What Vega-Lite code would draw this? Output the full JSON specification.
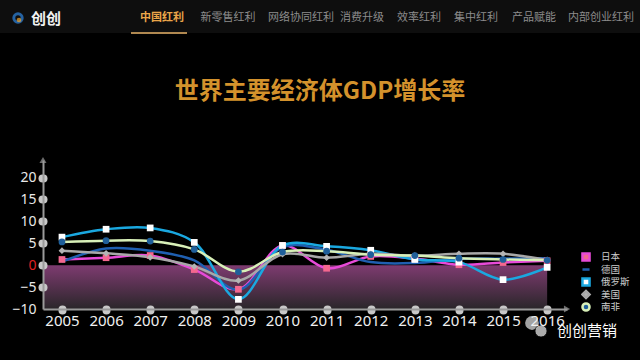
{
  "$schema": "https://vega.github.io/schema/vega-lite/v6.json",
  "width": 524,
  "height": 149,
  "autosize": "none",
  "padding": {"left": 43, "top": 160, "right": 73, "bottom": 51},
  "background": "#000000",
  "config": {"view": {"stroke": null}, "font": "Noto Sans CJK SC", "axis": {"grid": false}},
  "title": {"text": "世界主要经济体GDP增长率", "color": "#d4922c", "fontSize": 24, "fontWeight": "bold", "font": "Noto Sans CJK SC", "anchor": "middle", "frame": "group", "dx": 15, "offset": -104},
  "datasets": {
    "gdp": [
      {"year": 2005, "country": "日本", "gdp": 1.3},
      {"year": 2006, "country": "日本", "gdp": 1.7},
      {"year": 2007, "country": "日本", "gdp": 2.2},
      {"year": 2008, "country": "日本", "gdp": -1.0},
      {"year": 2009, "country": "日本", "gdp": -5.5},
      {"year": 2010, "country": "日本", "gdp": 4.5},
      {"year": 2011, "country": "日本", "gdp": -0.7},
      {"year": 2012, "country": "日本", "gdp": 2.0},
      {"year": 2013, "country": "日本", "gdp": 1.5},
      {"year": 2014, "country": "日本", "gdp": 0.1},
      {"year": 2015, "country": "日本", "gdp": 0.6},
      {"year": 2016, "country": "日本", "gdp": 1.0},
      {"year": 2005, "country": "德国", "gdp": 0.8},
      {"year": 2006, "country": "德国", "gdp": 3.8},
      {"year": 2007, "country": "德国", "gdp": 3.3},
      {"year": 2008, "country": "德国", "gdp": 1.1},
      {"year": 2009, "country": "德国", "gdp": -5.6},
      {"year": 2010, "country": "德国", "gdp": 4.1},
      {"year": 2011, "country": "德国", "gdp": 3.5},
      {"year": 2012, "country": "德国", "gdp": 0.7},
      {"year": 2013, "country": "德国", "gdp": 0.5},
      {"year": 2014, "country": "德国", "gdp": 1.4},
      {"year": 2015, "country": "德国", "gdp": 1.5},
      {"year": 2016, "country": "德国", "gdp": 1.6},
      {"year": 2005, "country": "俄罗斯", "gdp": 6.4},
      {"year": 2006, "country": "俄罗斯", "gdp": 8.2},
      {"year": 2007, "country": "俄罗斯", "gdp": 8.5},
      {"year": 2008, "country": "俄罗斯", "gdp": 5.2},
      {"year": 2009, "country": "俄罗斯", "gdp": -7.8},
      {"year": 2010, "country": "俄罗斯", "gdp": 4.5},
      {"year": 2011, "country": "俄罗斯", "gdp": 4.3},
      {"year": 2012, "country": "俄罗斯", "gdp": 3.4},
      {"year": 2013, "country": "俄罗斯", "gdp": 1.3},
      {"year": 2014, "country": "俄罗斯", "gdp": 0.7},
      {"year": 2015, "country": "俄罗斯", "gdp": -3.3},
      {"year": 2016, "country": "俄罗斯", "gdp": -0.5},
      {"year": 2005, "country": "美国", "gdp": 3.3},
      {"year": 2006, "country": "美国", "gdp": 2.7},
      {"year": 2007, "country": "美国", "gdp": 1.8},
      {"year": 2008, "country": "美国", "gdp": -0.3},
      {"year": 2009, "country": "美国", "gdp": -3.5},
      {"year": 2010, "country": "美国", "gdp": 2.5},
      {"year": 2011, "country": "美国", "gdp": 1.7},
      {"year": 2012, "country": "美国", "gdp": 2.6},
      {"year": 2013, "country": "美国", "gdp": 2.2},
      {"year": 2014, "country": "美国", "gdp": 2.6},
      {"year": 2015, "country": "美国", "gdp": 2.6},
      {"year": 2016, "country": "美国", "gdp": 1.2},
      {"year": 2005, "country": "南非", "gdp": 5.3},
      {"year": 2006, "country": "南非", "gdp": 5.6},
      {"year": 2007, "country": "南非", "gdp": 5.5},
      {"year": 2008, "country": "南非", "gdp": 3.6},
      {"year": 2009, "country": "南非", "gdp": -1.5},
      {"year": 2010, "country": "南非", "gdp": 3.0},
      {"year": 2011, "country": "南非", "gdp": 3.2},
      {"year": 2012, "country": "南非", "gdp": 2.4},
      {"year": 2013, "country": "南非", "gdp": 2.2},
      {"year": 2014, "country": "南非", "gdp": 1.6},
      {"year": 2015, "country": "南非", "gdp": 1.3},
      {"year": 2016, "country": "南非", "gdp": 1.1}
    ]
  },
  "layer": [
    {
      "data": {"values": [{}]},
      "mark": {"type": "rect", "fill": {"gradient": "linear", "x1": 0, "y1": 0, "x2": 0, "y2": 1, "stops": [{"offset": 0, "color": "#7e3b70"}, {"offset": 1, "color": "#2a262a"}]}},
      "encoding": {
        "x": {"datum": 2004.57, "type": "quantitative", "title": null,
          "scale": {"domain": [2004.57, 2016.45], "nice": false, "zero": false},
          "axis": {"title": null, "zindex": 1, "values": [2005, 2006, 2007, 2008, 2009, 2010, 2011, 2012, 2013, 2014, 2015, 2016], "format": "d", "grid": false,
            "domainColor": "#9a9a9a", "domainWidth": 2, "tickColor": "#c8c8c8", "tickWidth": 8, "tickCap": "round", "tickSize": 1,
            "labelColor": "#f0f0f0", "labelFontSize": 15, "labelFont": "Noto Sans", "labelPadding": 3, "labelFlush": false, "labelOverlap": false}},
        "x2": {"datum": 2016},
        "y": {"datum": 0, "type": "quantitative", "title": null,
          "scale": {"domain": [-10, 24], "nice": false, "zero": false},
          "axis": {"title": null, "zindex": 1, "values": [-10, -5, 0, 5, 10, 15, 20], "grid": false,
            "domainColor": "#9a9a9a", "domainWidth": 2, "tickColor": "#c8c8c8", "tickWidth": 8, "tickCap": "round", "tickSize": 1,
            "tickOpacity": {"condition": {"test": "datum.value === -10", "value": 0}, "value": 1},
            "labelColor": {"condition": {"test": "datum.value === 0", "value": "#e02020"}, "value": "#e8e8e8"},
            "labelFontSize": 14, "labelFont": "Noto Sans", "labelPadding": 6, "labelFlush": false, "labelOverlap": false}},
        "y2": {"datum": -10}
      }
    },
    {
      "data": {"name": "gdp"},
      "mark": {"type": "line", "interpolate": "catmull-rom", "strokeWidth": 2.5},
      "encoding": {
        "x": {"field": "year", "type": "quantitative", "title": null,
          "axis": {"title": null, "zindex": 1, "values": [2005, 2006, 2007, 2008, 2009, 2010, 2011, 2012, 2013, 2014, 2015, 2016], "format": "d", "grid": false,
            "domainColor": "#9a9a9a", "domainWidth": 2, "tickColor": "#c8c8c8", "tickWidth": 8, "tickCap": "round", "tickSize": 1,
            "labelColor": "#f0f0f0", "labelFontSize": 15, "labelFont": "Noto Sans", "labelPadding": 3, "labelFlush": false, "labelOverlap": false}},
        "y": {"field": "gdp", "type": "quantitative", "title": null,
          "axis": {"title": null, "zindex": 1, "values": [-10, -5, 0, 5, 10, 15, 20], "grid": false,
            "domainColor": "#9a9a9a", "domainWidth": 2, "tickColor": "#c8c8c8", "tickWidth": 8, "tickCap": "round", "tickSize": 1,
            "tickOpacity": {"condition": {"test": "datum.value === -10", "value": 0}, "value": 1},
            "labelColor": {"condition": {"test": "datum.value === 0", "value": "#e02020"}, "value": "#e8e8e8"},
            "labelFontSize": 14, "labelFont": "Noto Sans", "labelPadding": 6, "labelFlush": false, "labelOverlap": false}},
        "stroke": {
          "field": "country", "type": "nominal",
          "scale": {"domain": ["日本", "德国", "俄罗斯", "美国", "南非"], "range": ["#e84ad8", "#1f5fb0", "#1aa8e0", "#a8a8a8", "#d8f0b8"]},
          "legend": {"orient": "none", "legendX": 538, "legendY": 91, "title": null, "labelColor": "#cccccc", "labelFontSize": 9.5, "labelOffset": 10, "symbolSize": 50, "symbolStrokeWidth": 2.5, "rowPadding": 0.5, "clipHeight": 12}
        },
        "order": {"field": "year", "type": "quantitative"}
      }
    },
    {
      "data": {"name": "gdp"},
      "transform": [{"filter": "datum.country !== '德国'"}],
      "mark": {"type": "point", "filled": true, "size": 45, "opacity": 1},
      "encoding": {
        "x": {"field": "year", "type": "quantitative", "title": null,
          "axis": {"title": null, "zindex": 1, "values": [2005, 2006, 2007, 2008, 2009, 2010, 2011, 2012, 2013, 2014, 2015, 2016], "format": "d", "grid": false,
            "domainColor": "#9a9a9a", "domainWidth": 2, "tickColor": "#c8c8c8", "tickWidth": 8, "tickCap": "round", "tickSize": 1,
            "labelColor": "#f0f0f0", "labelFontSize": 15, "labelFont": "Noto Sans", "labelPadding": 3, "labelFlush": false, "labelOverlap": false}},
        "y": {"field": "gdp", "type": "quantitative", "title": null,
          "axis": {"title": null, "zindex": 1, "values": [-10, -5, 0, 5, 10, 15, 20], "grid": false,
            "domainColor": "#9a9a9a", "domainWidth": 2, "tickColor": "#c8c8c8", "tickWidth": 8, "tickCap": "round", "tickSize": 1,
            "tickOpacity": {"condition": {"test": "datum.value === -10", "value": 0}, "value": 1},
            "labelColor": {"condition": {"test": "datum.value === 0", "value": "#e02020"}, "value": "#e8e8e8"},
            "labelFontSize": 14, "labelFont": "Noto Sans", "labelPadding": 6, "labelFlush": false, "labelOverlap": false}},
        "fill": {
          "field": "country", "type": "nominal",
          "scale": {"domain": ["日本", "德国", "俄罗斯", "美国", "南非"], "range": ["#f4678f", "#1f5fb0", "#ffffff", "#b4b4b4", "#1f5f9a"]},
          "legend": {"orient": "none", "legendX": 538, "legendY": 91, "title": null, "labelColor": "#cccccc", "labelFontSize": 9.5, "labelOffset": 10, "symbolSize": 50, "symbolStrokeWidth": 2.5, "rowPadding": 0.5, "clipHeight": 12}
        },
        "shape": {
          "field": "country", "type": "nominal",
          "scale": {"domain": ["日本", "德国", "俄罗斯", "美国", "南非"], "range": ["square", "stroke", "square", "diamond", "circle"]},
          "legend": {"orient": "none", "legendX": 538, "legendY": 91, "title": null, "labelColor": "#cccccc", "labelFontSize": 9.5, "labelOffset": 10, "symbolSize": 50, "symbolStrokeWidth": 2.5, "rowPadding": 0.5, "clipHeight": 12}
        }
      }
    },
    {
      "data": {"values": [{}]},
      "mark": {"type": "point", "shape": "triangle-up", "size": 50, "fill": "#9a9a9a", "filled": true},
      "encoding": {
        "x": {"datum": 2004.57, "type": "quantitative", "title": null,
          "axis": {"title": null, "zindex": 1, "values": [2005, 2006, 2007, 2008, 2009, 2010, 2011, 2012, 2013, 2014, 2015, 2016], "format": "d", "grid": false,
            "domainColor": "#9a9a9a", "domainWidth": 2, "tickColor": "#c8c8c8", "tickWidth": 8, "tickCap": "round", "tickSize": 1,
            "labelColor": "#f0f0f0", "labelFontSize": 15, "labelFont": "Noto Sans", "labelPadding": 3, "labelFlush": false, "labelOverlap": false}},
        "y": {"datum": 24, "type": "quantitative", "title": null,
          "axis": {"title": null, "zindex": 1, "values": [-10, -5, 0, 5, 10, 15, 20], "grid": false,
            "domainColor": "#9a9a9a", "domainWidth": 2, "tickColor": "#c8c8c8", "tickWidth": 8, "tickCap": "round", "tickSize": 1,
            "tickOpacity": {"condition": {"test": "datum.value === -10", "value": 0}, "value": 1},
            "labelColor": {"condition": {"test": "datum.value === 0", "value": "#e02020"}, "value": "#e8e8e8"},
            "labelFontSize": 14, "labelFont": "Noto Sans", "labelPadding": 6, "labelFlush": false, "labelOverlap": false}}
      }
    },
    {
      "data": {"values": [{}]},
      "mark": {"type": "point", "shape": "triangle-right", "size": 50, "fill": "#9a9a9a", "filled": true},
      "encoding": {
        "x": {"datum": 2016.45, "type": "quantitative", "title": null,
          "axis": {"title": null, "zindex": 1, "values": [2005, 2006, 2007, 2008, 2009, 2010, 2011, 2012, 2013, 2014, 2015, 2016], "format": "d", "grid": false,
            "domainColor": "#9a9a9a", "domainWidth": 2, "tickColor": "#c8c8c8", "tickWidth": 8, "tickCap": "round", "tickSize": 1,
            "labelColor": "#f0f0f0", "labelFontSize": 15, "labelFont": "Noto Sans", "labelPadding": 3, "labelFlush": false, "labelOverlap": false}},
        "y": {"datum": -10, "type": "quantitative", "title": null,
          "axis": {"title": null, "zindex": 1, "values": [-10, -5, 0, 5, 10, 15, 20], "grid": false,
            "domainColor": "#9a9a9a", "domainWidth": 2, "tickColor": "#c8c8c8", "tickWidth": 8, "tickCap": "round", "tickSize": 1,
            "tickOpacity": {"condition": {"test": "datum.value === -10", "value": 0}, "value": 1},
            "labelColor": {"condition": {"test": "datum.value === 0", "value": "#e02020"}, "value": "#e8e8e8"},
            "labelFontSize": 14, "labelFont": "Noto Sans", "labelPadding": 6, "labelFlush": false, "labelOverlap": false}}
      }
    },
    {
      "data": {"values": [{}]},
      "mark": {"type": "rect", "fill": "#0e0e0e"},
      "encoding": {"x": {"value": -43}, "x2": {"value": 597}, "y": {"value": -160}, "y2": {"value": -127}}
    },
    {
      "data": {"values": [{}]},
      "mark": {"type": "rule", "stroke": "#b08850", "strokeWidth": 2},
      "encoding": {"x": {"value": 88}, "x2": {"value": 144}, "y": {"value": -127}}
    },
    {
      "data": {"values": [{}]},
      "mark": {"type": "point", "shape": "circle", "size": 70, "stroke": "#2f86e0", "strokeWidth": 3, "filled": false},
      "encoding": {"x": {"value": -25}, "y": {"value": -142}}
    },
    {
      "data": {"values": [{}]},
      "mark": {"type": "point", "shape": "circle", "size": 22, "fill": "#f3a72c", "filled": true},
      "encoding": {"x": {"value": -24}, "y": {"value": -140}}
    },
    {
      "data": {"values": [{}]},
      "mark": {"type": "text", "text": "创创", "fontSize": 15, "fontWeight": "bold", "color": "#f2f2f2", "align": "left", "baseline": "middle"},
      "encoding": {"x": {"value": -12}, "y": {"value": -141}}
    },
    {
      "data": {"values": [{}]},
      "mark": {"type": "text", "text": "中国红利", "fontSize": 11, "fontWeight": "bold", "color": "#eba64a", "align": "center", "baseline": "middle"},
      "encoding": {"x": {"value": 119}, "y": {"value": -142}}
    },
    {
      "data": {"values": [{}]},
      "mark": {"type": "text", "text": "新零售红利", "fontSize": 11, "color": "#8c8c8c", "align": "center", "baseline": "middle"},
      "encoding": {"x": {"value": 185}, "y": {"value": -142}}
    },
    {
      "data": {"values": [{}]},
      "mark": {"type": "text", "text": "网络协同红利", "fontSize": 11, "color": "#8c8c8c", "align": "center", "baseline": "middle"},
      "encoding": {"x": {"value": 258}, "y": {"value": -142}}
    },
    {
      "data": {"values": [{}]},
      "mark": {"type": "text", "text": "消费升级", "fontSize": 11, "color": "#8c8c8c", "align": "center", "baseline": "middle"},
      "encoding": {"x": {"value": 319}, "y": {"value": -142}}
    },
    {
      "data": {"values": [{}]},
      "mark": {"type": "text", "text": "效率红利", "fontSize": 11, "color": "#8c8c8c", "align": "center", "baseline": "middle"},
      "encoding": {"x": {"value": 376}, "y": {"value": -142}}
    },
    {
      "data": {"values": [{}]},
      "mark": {"type": "text", "text": "集中红利", "fontSize": 11, "color": "#8c8c8c", "align": "center", "baseline": "middle"},
      "encoding": {"x": {"value": 433}, "y": {"value": -142}}
    },
    {
      "data": {"values": [{}]},
      "mark": {"type": "text", "text": "产品赋能", "fontSize": 11, "color": "#8c8c8c", "align": "center", "baseline": "middle"},
      "encoding": {"x": {"value": 491}, "y": {"value": -142}}
    },
    {
      "data": {"values": [{}]},
      "mark": {"type": "text", "text": "内部创业红利", "fontSize": 11, "color": "#8c8c8c", "align": "center", "baseline": "middle"},
      "encoding": {"x": {"value": 558}, "y": {"value": -142}}
    },
    {
      "data": {"values": [{}]},
      "mark": {"type": "point", "shape": "circle", "size": 190, "fill": "#e8e8e8", "filled": true},
      "encoding": {"x": {"value": 489}, "y": {"value": 163}}
    },
    {
      "data": {"values": [{}]},
      "mark": {"type": "point", "shape": "circle", "size": 150, "fill": "#f4f4f4", "filled": true, "stroke": "#000000", "strokeWidth": 1},
      "encoding": {"x": {"value": 498}, "y": {"value": 171}}
    },
    {
      "data": {"values": [{}]},
      "mark": {"type": "text", "text": "创创营销", "fontSize": 15, "color": "#ffffff", "align": "left", "baseline": "middle"},
      "encoding": {"x": {"value": 514}, "y": {"value": 171}}
    }
  ]
}
